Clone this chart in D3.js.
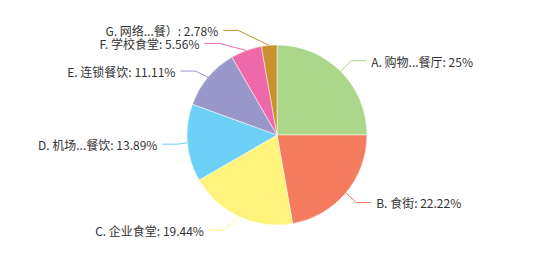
<!DOCTYPE html>
<html>
<head>
<meta charset="utf-8">
<script src="https://cdn.jsdelivr.net/npm/d3@7/dist/d3.min.js"></script>
<style>
  html, body { margin: 0; padding: 0; background: #fff; }
  svg { display: block; }
  text { font-family: "Microsoft YaHei", "Noto Sans CJK SC", sans-serif; font-size: 12px; fill: #333; }
</style>
</head>
<body>
<svg id="chart" width="544" height="258"></svg>
<script>
// Restaurant type distribution (percent)
const categories = ["A. 购物...餐厅", "B. 食街", "C. 企业食堂", "D. 机场...餐饮", "E. 连锁餐饮", "F. 学校食堂", "G. 网络...餐）"];
const values = [25, 22.22, 19.44, 13.89, 11.11, 5.56, 2.78];
const valueLabels = ["25%", "22.22%", "19.44%", "13.89%", "11.11%", "5.56%", "2.78%"];
const colors = ["#acd78a", "#f57b5e", "#fff47b", "#6dd0f7", "#9a98ca", "#ef68a9", "#c9912f"];

const width = 544, height = 258;
const cx = 277, cy = 135, radius = 90;
const len1 = 15, len2 = 15, gap = 5, textH = 13;

const svg = d3.select("#chart");
const g = svg.append("g");

const pie = d3.pie().sort(null).value(d => d.value);
const arcs = pie(categories.map((c, i) => ({ name: c, value: values[i], label: valueLabels[i], color: colors[i] })));
const arc = d3.arc().innerRadius(0).outerRadius(radius);

g.selectAll("path.slice")
  .data(arcs)
  .join("path")
  .attr("class", "slice")
  .attr("transform", `translate(${cx},${cy})`)
  .attr("d", arc)
  .attr("fill", d => d.data.color)
  .attr("stroke", "#fff")
  .attr("stroke-width", 0.5);

// Outside label layout with overlap avoidance on each side
const layouts = arcs.map(d => {
  const a = (d.startAngle + d.endAngle) / 2;
  const dx = Math.sin(a), dy = -Math.cos(a);
  const x0 = cx + dx * radius, y0 = cy + dy * radius;
  const x1 = cx + dx * (radius + len1), y1 = cy + dy * (radius + len1);
  const dir = dx < 0 ? -1 : 1;
  const x2 = x1 + dir * len2;
  return { d, dir, x: x2 + dir * gap, y: y1, pts: [[x0, y0], [x1, y1], [x2, y1]] };
});

function adjustSide(list, dir) {
  list.sort((a, b) => a.y - b.y);
  const n = list.length;
  function shiftUp(end, delta) {
    for (let j = end; j >= 0; j--) {
      if (list[j].y - delta < 0) break;
      list[j].y -= delta;
      if (j > 0 && list[j].y > list[j - 1].y + textH) break;
    }
  }
  function shiftDown(start, end, delta) {
    for (let j = start; j < end; j++) {
      if (list[j].y + delta > height) break;
      list[j].y += delta;
      if (j > start && j + 1 < end && list[j + 1].y > list[j].y + textH) {
        shiftUp(j, delta / 2);
        return;
      }
    }
    shiftUp(end - 1, delta / 2);
  }
  let lastY = 0;
  for (let i = 0; i < n; i++) {
    const delta = list[i].y - lastY;
    if (delta < 0) shiftDown(i, n, -delta);
    lastY = list[i].y + textH;
  }
  const up = list.filter(l => l.y < cy), down = list.filter(l => l.y >= cy);
  const R = radius + len1 + len2;
  function changeX(sub, isDown) {
    let last = isDown ? Number.MAX_VALUE : 0;
    sub.forEach(l => {
      const dyy = Math.abs(l.y - cy);
      let dxx = dyy < radius + len1 ? Math.sqrt(R * R - dyy * dyy) : Math.abs(l.x - cx);
      if (isDown && dxx >= last) dxx = last - 10;
      if (!isDown && dxx <= last) dxx = last + 10;
      l.x = cx + dxx * dir;
      last = dxx;
    });
  }
  changeX(up, false);
  changeX(down, true);
  list.forEach(l => {
    const dist = l.pts[1][0] - l.pts[2][0];
    l.pts[2][0] = l.x - dir * gap;
    l.pts[1][0] = l.pts[2][0] + dist;
    l.pts[1][1] = l.pts[2][1] = l.y;
  });
}
adjustSide(layouts.filter(l => l.dir < 0), -1);
adjustSide(layouts.filter(l => l.dir > 0), 1);

g.selectAll("polyline.lead")
  .data(layouts)
  .join("polyline")
  .attr("class", "lead")
  .attr("points", l => l.pts.map(p => p.join(",")).join(" "))
  .attr("fill", "none")
  .attr("stroke", l => l.d.data.color)
  .attr("stroke-width", 1);

g.selectAll("text.lbl")
  .data(layouts)
  .join("text")
  .attr("class", "lbl")
  .attr("x", l => l.x)
  .attr("y", l => l.y)
  .attr("dy", "0.5em")
  .attr("text-anchor", l => l.dir < 0 ? "end" : "start")
  .text(l => `${l.d.data.name}: ${l.d.data.label}`);
</script>
</body>
</html>
